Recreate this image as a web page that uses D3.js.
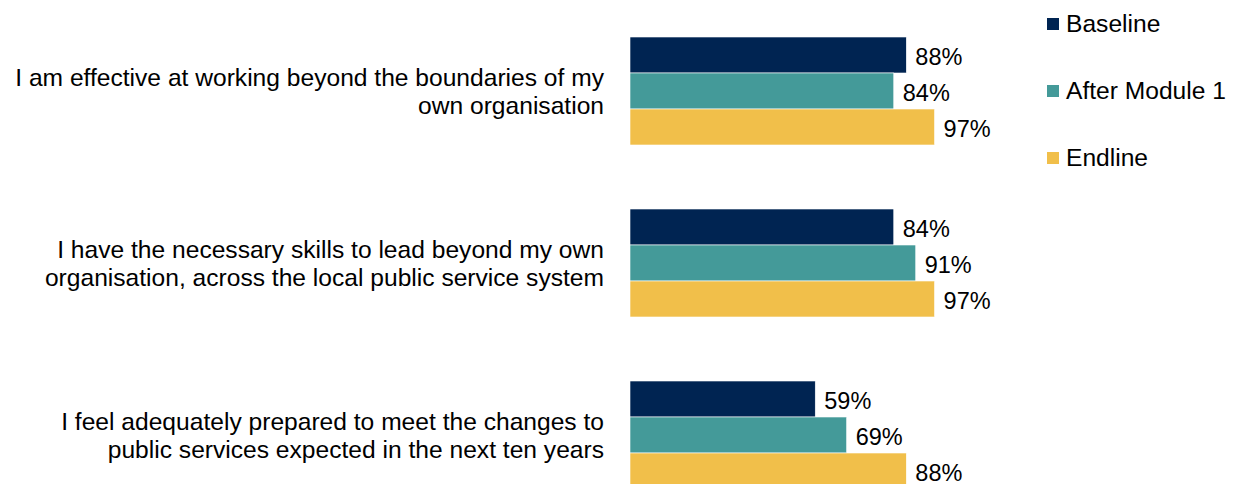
<!DOCTYPE html>
<html>
<head>
<meta charset="utf-8">
<script src="https://cdn.jsdelivr.net/npm/d3@7"></script>
<style>
  html, body { margin: 0; padding: 0; background: #fff; }
  svg { display: block; font-family: "Liberation Sans", Arial, sans-serif; }
</style>
</head>
<body>
<svg id="chart" width="1233" height="484"></svg>
<script>
// Survey statements (each split into its display lines)
const categories = [
  ["I am effective at working beyond the boundaries of my", "own organisation"],
  ["I have the necessary skills to lead beyond my own", "organisation, across the local public service system"],
  ["I feel adequately prepared to meet the changes to", "public services expected in the next ten years"]
];
const seriesNames = ["Baseline", "After Module 1", "Endline"];
const baseline = [88, 84, 59];
const afterModule1 = [84, 91, 69];
const endline = [97, 97, 88];
const colors = ["#002452", "#449a99", "#f1bf4a"];

const seriesValues = [baseline, afterModule1, endline];
const rows = categories.map((c, i) => ({
  key: i,
  lines: c,
  values: seriesNames.map((s, j) => ({ series: s, value: seriesValues[j][i] }))
}));

const svg = d3.select("#chart");

const x = d3.scaleLinear().domain([0, 100]).range([630, 944]);
const y = d3.scaleBand().domain(rows.map(r => r.key)).range([37, 489])
  .paddingInner(64 / 172).paddingOuter(0);
const ySub = d3.scaleBand().domain(seriesNames).range([0, y.bandwidth()]).padding(0);
const color = d3.scaleOrdinal().domain(seriesNames).range(colors);

const groups = svg.append("g").selectAll("g.group")
  .data(rows).join("g")
  .attr("class", "group")
  .attr("transform", d => `translate(0,${y(d.key)})`);

groups.selectAll("rect")
  .data(d => d.values).join("rect")
  .attr("x", x(0))
  .attr("y", d => ySub(d.series))
  .attr("width", d => x(d.value) - x(0))
  .attr("height", ySub.bandwidth())
  .attr("fill", d => color(d.series))
  .attr("stroke", "#ffffff")
  .attr("stroke-width", 0.6);

groups.selectAll("text.value")
  .data(d => d.values).join("text")
  .attr("class", "value")
  .attr("x", d => x(d.value) + 9)
  .attr("y", d => ySub(d.series) + ySub.bandwidth() / 2 + 1.5)
  .attr("dy", "0.35em")
  .attr("font-size", 23.5)
  .attr("fill", "#000")
  .text(d => d.value + "%");

// Category labels, right-aligned to the left of the bars
const lineH = 28;
groups.append("text")
  .attr("class", "cat")
  .attr("text-anchor", "end")
  .attr("font-size", 24.6)
  .attr("fill", "#000")
  .selectAll("tspan")
  .data(d => d.lines).join("tspan")
  .attr("x", 604)
  .attr("y", (l, i, n) => y.bandwidth() / 2 + (i - (n.length - 1) / 2) * lineH)
  .attr("dy", "0.35em")
  .text(l => l);

// Legend
const legend = svg.append("g").selectAll("g")
  .data(seriesNames).join("g")
  .attr("transform", (d, i) => `translate(1047,${18 + i * 67})`);
legend.append("rect")
  .attr("width", 12).attr("height", 12)
  .attr("fill", d => color(d));
legend.append("text")
  .attr("x", 19).attr("y", 5.5)
  .attr("dy", "0.35em")
  .attr("font-size", 24.6)
  .attr("fill", "#000")
  .text(d => d);
</script>
</body>
</html>
